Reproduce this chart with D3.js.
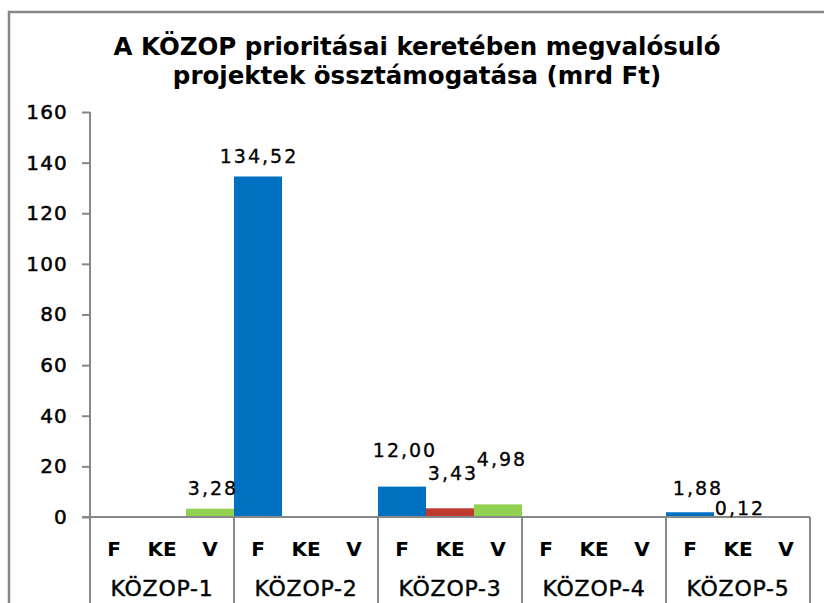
<!DOCTYPE html>
<html>
<head>
<meta charset="utf-8">
<script src="https://cdn.jsdelivr.net/npm/d3@7/dist/d3.min.js"></script>
<style>
  body { margin: 0; background: #fff; }
  svg { display: block; font-family: "DejaVu Sans", sans-serif; }
</style>
</head>
<body>
<svg id="chart" width="824" height="603"></svg>
<script>
// chart data
const groups = ["KÖZOP-1", "KÖZOP-2", "KÖZOP-3", "KÖZOP-4", "KÖZOP-5"];
const series = ["F", "KE", "V"];
const valuesF = [null, 134.52, 12.00, null, 1.88];
const valuesKE = [null, null, 3.43, null, 0.12];
const valuesV = [3.28, null, 4.98, null, null];
const yTicks = [0, 20, 40, 60, 80, 100, 120, 140, 160];
const titleLines = ["A KÖZOP prioritásai keretében megvalósuló", "projektek össztámogatása (mrd Ft)"];

const colors = { F: "#0070c0", KE: "#c0392f", V: "#92d050" };
// label nudges (dx, lift above bar top), as placed in the original
const labelNudge = {
  "KÖZOP-1|V": [2, 14], "KÖZOP-2|F": [0, 13], "KÖZOP-3|F": [2, 30],
  "KÖZOP-3|KE": [2, 28], "KÖZOP-3|V": [3, 38], "KÖZOP-5|F": [7, 17], "KÖZOP-5|KE": [1, 2]
};

const svg = d3.select("#chart");
const grey = "#878787";

const x0 = d3.scaleBand().domain(groups).range([90, 810]).padding(0);
const x1 = d3.scaleBand().domain(series).range([0, x0.bandwidth()]).padding(0);
const y = d3.scaleLinear().domain([0, 160]).range([517, 112]);

const rows = [];
groups.forEach((g, i) => {
  [valuesF, valuesKE, valuesV].forEach((arr, j) => {
    if (arr[i] != null) rows.push({ group: g, s: series[j], v: arr[i] });
  });
});

// outer frame
svg.append("path")
  .attr("d", "M9,603 V12 H824")
  .attr("fill", "none").attr("stroke", grey).attr("stroke-width", 2.5);

// title
svg.append("g").selectAll("text").data(titleLines).join("text")
  .attr("x", 417).attr("y", (d, i) => 55 + i * 29)
  .attr("text-anchor", "middle")
  .attr("font-weight", "bold").attr("font-size", 24.5)
  .text(d => d);

// y axis
const yAxis = svg.append("g").attr("transform", "translate(90,0)")
  .call(d3.axisLeft(y).tickValues(yTicks).tickSize(8).tickPadding(14).tickFormat(d3.format("d")));
yAxis.select(".domain").remove();
yAxis.selectAll(".tick line").attr("stroke", grey).attr("stroke-width", 2);
yAxis.selectAll(".tick text").attr("font-size", 20).attr("fill", "#000")
  .attr("font-family", "DejaVu Sans").attr("letter-spacing", 1.2)
  .attr("stroke", "#000").attr("stroke-width", 0.5);
svg.append("line").attr("x1", 90).attr("x2", 90).attr("y1", y(160)).attr("y2", 603)
  .attr("stroke", grey).attr("stroke-width", 2);

// bars
svg.append("g").selectAll("rect").data(rows).join("rect")
  .attr("x", d => x0(d.group) + x1(d.s))
  .attr("width", x1.bandwidth())
  .attr("y", d => y(d.v))
  .attr("height", d => y(0) - y(d.v))
  .attr("fill", d => colors[d.s]);

// zero line and category separators
svg.append("line").attr("x1", 82).attr("x2", 810).attr("y1", y(0)).attr("y2", y(0))
  .attr("stroke", grey).attr("stroke-width", 2);
svg.append("g").selectAll("line").data(groups.slice(1).concat(["end"])).join("line")
  .attr("x1", d => d === "end" ? x0.range()[1] : x0(d))
  .attr("x2", d => d === "end" ? x0.range()[1] : x0(d))
  .attr("y1", y(0)).attr("y2", 603)
  .attr("stroke", grey).attr("stroke-width", 2);

// value labels
const fmt = v => d3.format(".2f")(v).replace(".", ",");
svg.append("g").selectAll("text").data(rows).join("text")
  .attr("x", d => x0(d.group) + x1(d.s) + x1.bandwidth() / 2 + 1 + (labelNudge[d.group + "|" + d.s] || [0, 14])[0])
  .attr("y", d => y(d.v) - (labelNudge[d.group + "|" + d.s] || [0, 14])[1])
  .attr("text-anchor", "middle")
  .attr("font-size", 19).attr("letter-spacing", 2)
  .attr("stroke", "#000").attr("stroke-width", 0.3)
  .text(d => fmt(d.v));

// series letters and group names
const cat = svg.append("g");
groups.forEach(g => {
  cat.append("g").selectAll("text").data(series).join("text")
    .attr("x", s => x0(g) + x1(s) + x1.bandwidth() / 2)
    .attr("y", 556)
    .attr("text-anchor", "middle").attr("font-size", 20).attr("font-weight", "bold")
    .text(s => s);
});
cat.append("g").selectAll("text").data(groups).join("text")
  .attr("x", g => x0(g) + x0.bandwidth() / 2)
  .attr("y", 596)
  .attr("text-anchor", "middle").attr("font-size", 22).attr("letter-spacing", 0.8)
  .attr("stroke", "#000").attr("stroke-width", 0.4)
  .text(g => g);
</script>
</body>
</html>
